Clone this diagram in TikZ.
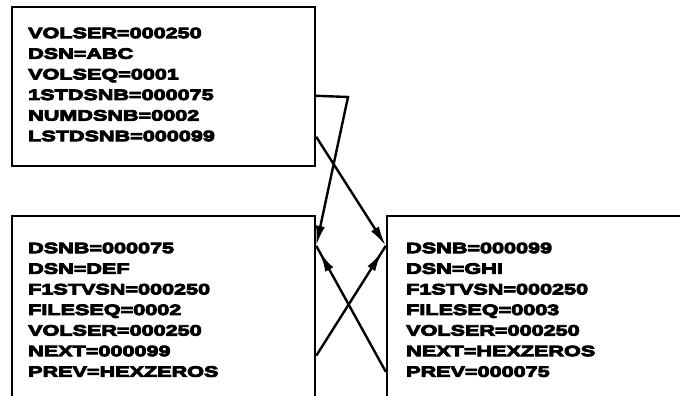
\documentclass[tikz,border=0pt]{standalone}
\usepackage{fontspec}
\setmainfont{Liberation Sans Bold}[FakeStretch=1.44,FakeBold=6]
\usetikzlibrary{arrows.meta,decorations.markings}
\begin{document}
\begin{tikzpicture}[x=1pt,y=-1pt,
  box/.style={draw,line width=2.4pt,rectangle,inner sep=0pt},
  rec/.style={anchor=north west,align=left,inner sep=0pt,
    font=\fontsize{15}{20.6}\selectfont},
  conn/.style={line width=2.4pt},
  tipA/.style={-{Latex[length=20pt,width=9pt]}},
  tipmid/.style={postaction={decorate},decoration={markings,
    mark=at position -7pt with {\arrow{Latex[length=20pt,width=9pt]}}}}]
\useasboundingbox (0,0) rectangle (680,396);
\node[box,minimum width=303pt,minimum height=159pt] (top) at (163.5,86.5) {};
\node[box,minimum width=303pt,minimum height=200pt] (left) at (163.5,316) {};
\node[box,minimum width=320pt,minimum height=200pt] (right) at (547,316) {};
\node[rec] (ttop) at (28,27.5) {VOLSER=000250\\DSN=ABC\\VOLSEQ=0001\\1STDSNB=000075\\NUMDSNB=0002\\LSTDSNB=000099};
\node[rec] (tleft) at (28,242.5) {DSNB=000075\\DSN=DEF\\F1STVSN=000250\\FILESEQ=0002\\VOLSER=000250\\NEXT=000099\\PREV=HEXZEROS};
\node[rec] (tright) at (406,242.5) {DSNB=000099\\DSN=GHI\\F1STVSN=000250\\FILESEQ=0003\\VOLSER=000250\\NEXT=HEXZEROS\\PREV=000075};
\coordinate (a1) at ([yshift=-90pt]top.north east);
\coordinate (a2) at (348,97);
\coordinate (b1) at ([yshift=-131pt]top.north east);
\coordinate (lin) at ([yshift=-31pt]left.north east);
\coordinate (rin) at ([yshift=-31pt]right.north west);
\coordinate (lout) at ([yshift=-141pt]left.north east);
\coordinate (rout) at ([yshift=-157pt]right.north west);
\draw[conn,tipA] (a1) -- (a2) -- (lin);
\draw[conn,tipA] (b1) -- (rin);
\draw[conn,tipmid] (lout) -- (rin);
\draw[conn,tipmid] (rout) -- (lin);
\end{tikzpicture}
\end{document}
